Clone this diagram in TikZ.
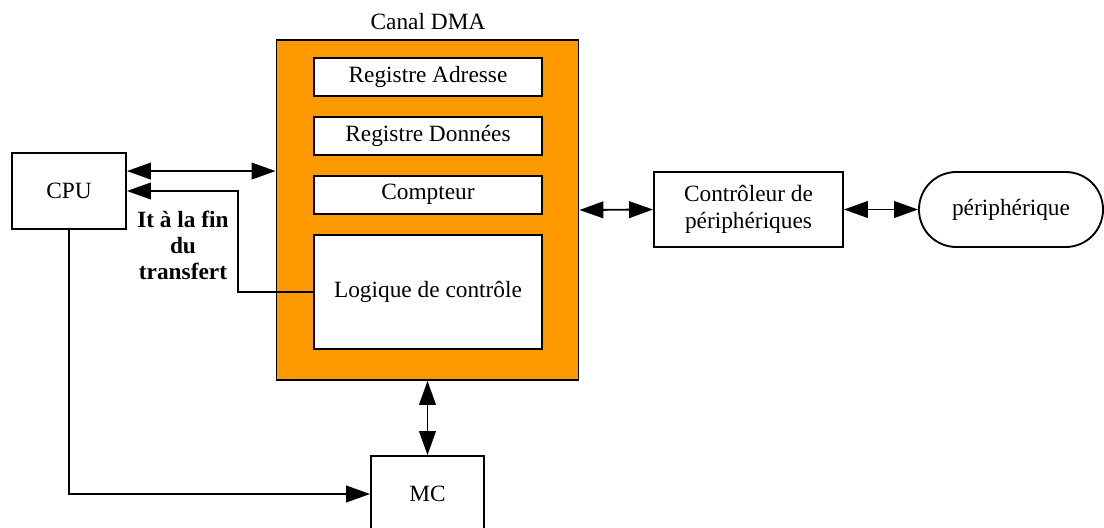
\documentclass[tikz,border=0pt]{standalone}
\usepackage{fontspec}
\setmainfont{Liberation Serif}
\usetikzlibrary{arrows.meta, positioning}
\definecolor{orangeDMA}{HTML}{FF9900}

\begin{document}
\begin{tikzpicture}[x=0.75pt, y=-0.75pt,
        bloc/.style={draw, line width=1.4pt, fill=white, align=center, inner sep=0pt,
            font=\fontsize{17.5}{20}\selectfont},
        reg/.style={bloc, minimum width=171pt, minimum height=28.5pt},
        lien/.style={line width=1.4pt, -{Triangle[length=18pt, width=12.5pt]}},
        bilien/.style={line width=1.4pt, {Triangle[length=18pt, width=12.5pt]}-{Triangle[length=18pt, width=12.5pt]}}
    ]
        \useasboundingbox (0,0) rectangle (1104,528);

        % canal DMA et ses registres
        \node[bloc, fill=orangeDMA, minimum width=226.5pt, minimum height=255pt] (dma) at (427.5,210) {};
        \node[font=\fontsize{17.5}{20}\selectfont] (titre) at (428,22) {Canal DMA};
        \node[reg] (adr) at (428,77) {Registre Adresse};
        \node[reg, below=14.25pt of adr] (don) {Registre Données};
        \node[reg, below=14.25pt of don] (cpt) {Compteur};
        \node[reg, below=14.25pt of cpt, minimum height=85.5pt] (log) {Logique de contrôle};

        % autres blocs
        \node[bloc, minimum width=85.5pt, minimum height=57pt] (cpu) at (69,191) {CPU};
        \node[bloc, minimum width=84.75pt, minimum height=57pt] (mc) at (427.5,494) {MC};
        \node[bloc, minimum width=141.75pt, minimum height=56.25pt] (ctrl) at (748.5,209.5) {Contrôleur de\\périphériques};
        \node[bloc, rounded corners=28pt, minimum width=138pt, minimum height=56.25pt] (peri) at (1011,209.5) {périphérique};
        \node[align=center, font=\fontsize{17.5}{19.5}\selectfont\bfseries] (it) at (183,245) {It à la fin\\du\\transfert};

        % liaisons
        \draw[bilien] ([yshift=-14.25pt]cpu.north east) -- ([yshift=-14.25pt]cpu.north east -| dma.west);
        \draw[lien] (log.west) -- ++(-56.25pt,0) |- (cpu.east);
        \draw[lien] (cpu.south) |- (mc.west);
        \draw[bilien] (dma.south) -- (mc.north);
        \draw[bilien] (dma.east) -- (ctrl.west);
        \draw[bilien] (ctrl.east) -- (peri.west);
    \end{tikzpicture}
\end{document}
